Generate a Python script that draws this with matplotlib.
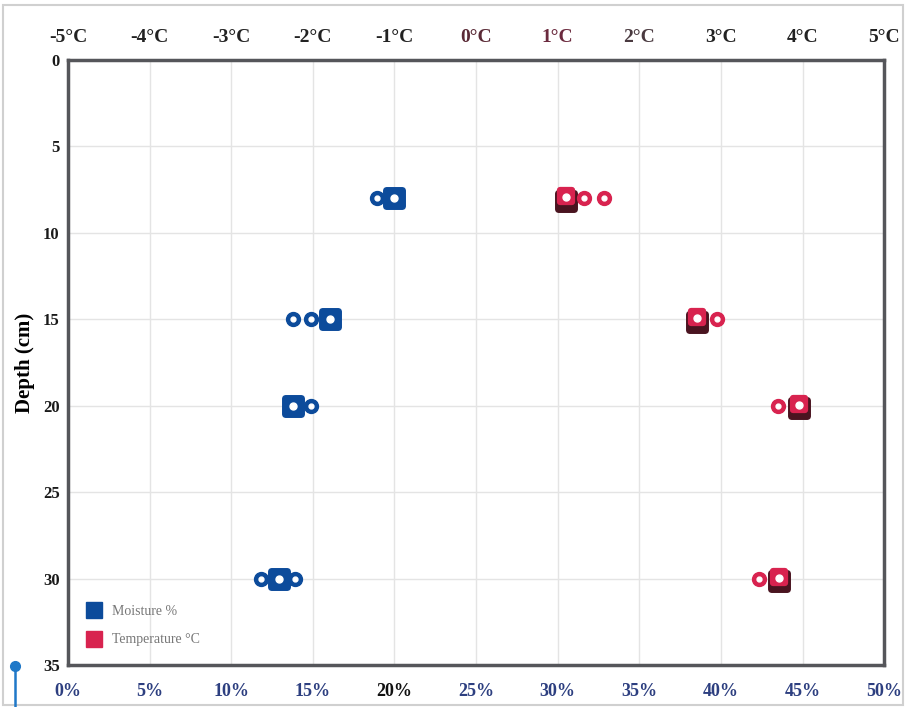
import matplotlib
matplotlib.use("Agg")
import matplotlib.pyplot as plt
from matplotlib.lines import Line2D
from matplotlib.markers import MarkerStyle
from matplotlib.patches import Rectangle

# soil probe readings
depths_moist = [8, 8, 15, 15, 15, 20, 20, 30, 30, 30]
moisture = [18.9, 20.0, 13.8, 14.9, 16.05, 13.8, 14.9, 11.8, 12.9, 13.9]
moist_big = [False, True, False, False, True, True, False, False, True, False]

depths_temp = [8, 8, 8, 15, 15, 20, 20, 30, 30]
temperature = [1.1, 1.32, 1.57, 2.71, 2.95, 3.7, 3.96, 3.46, 3.71]
temp_big = [True, False, False, True, False, False, True, False, True]

pct_ticks = list(range(0, 51, 5))
pct_labels = ["%d%%" % p for p in pct_ticks]
temp_ticks = list(range(-5, 6))
temp_labels = ["%d°C" % t for t in temp_ticks]
depth_ticks = list(range(0, 36, 5))

BLUE = "#0c4b9b"
RED = "#d8234f"
DARK_RED = "#4a1420"
serif = ["Liberation Serif", "DejaVu Serif"]
rsq = MarkerStyle("s", joinstyle="round")

fig = plt.figure(figsize=(9.06, 7.07), dpi=100)
ax = fig.add_axes([0.075, 0.0594, 0.901, 0.856])
ax.set_xlim(0, 50)
ax.set_ylim(35, 0)
ax.set_xticks(pct_ticks)
ax.set_yticks(depth_ticks)
ax.grid(True, color="#e4e4e4", lw=1)
ax.set_axisbelow(True)
for sp in ax.spines.values():
    sp.set_color("#55565a")
    sp.set_linewidth(2.5)
ax.tick_params(axis="x", length=0, pad=13)
ax.tick_params(axis="y", length=0, pad=6)
ax.set_xticklabels(pct_labels, family=serif, weight="bold", fontsize=13, color="#2d3f80")
ax.get_xticklabels()[4].set_color("#111111")
ax.set_yticklabels([str(d) for d in depth_ticks], family=serif, weight="bold", fontsize=12, color="#1a1a1a")
ax.set_ylabel("Depth (cm)", family=serif, weight="bold", fontsize=15, labelpad=6)

ax2 = ax.twiny()
ax2.set_xlim(-5, 5)
ax2.set_xticks(temp_ticks)
ax2.set_xticklabels(temp_labels, family=serif, weight="bold", fontsize=14)
ax2.tick_params(length=0, pad=10)
top_colors = ["#222", "#222", "#222", "#222", "#222", "#5a2a36", "#6b2a3e", "#4a3a40", "#222", "#222", "#222"]
for lab, c in zip(ax2.get_xticklabels(), top_colors):
    lab.set_color(c)
for sp in ax2.spines.values():
    sp.set_visible(False)

# moisture markers
for x, y, big in zip(moisture, depths_moist, moist_big):
    if big:
        ax.plot(x, y, marker=rsq, ms=11, mfc=BLUE, mec=BLUE, mew=5, zorder=4)
        ax.plot(x, y, marker="o", ms=5, mfc="white", mec="white", zorder=5)
    else:
        ax.plot(x, y, marker="o", ms=10, mfc=BLUE, mec=BLUE, zorder=4)
        ax.plot(x, y, marker="o", ms=3.5, mfc="white", mec="white", zorder=5)

# temperature markers
for x, y, big in zip(temperature, depths_temp, temp_big):
    if big:
        ax2.plot(x, y + 0.15, marker=rsq, ms=11, mfc=DARK_RED, mec=DARK_RED, mew=5, zorder=3)
        ax2.plot(x, y - 0.1, marker=rsq, ms=9, mfc=RED, mec=RED, mew=4.5, zorder=4)
        ax2.plot(x, y - 0.05, marker="o", ms=5, mfc="white", mec="white", zorder=5)
    else:
        ax2.plot(x, y, marker="o", ms=10, mfc=RED, mec=RED, zorder=4)
        ax2.plot(x, y, marker="o", ms=3.5, mfc="white", mec="white", zorder=5)

handles = [
    Line2D([], [], ls="none", marker="s", ms=11, mfc=BLUE, mec=BLUE, label="Moisture %"),
    Line2D([], [], ls="none", marker="s", ms=11, mfc=RED, mec=RED, label="Temperature °C"),
]
leg = ax.legend(handles=handles, loc="lower left", frameon=False,
                prop={"family": serif, "size": 10}, handletextpad=0.3,
                labelspacing=1.1, bbox_to_anchor=(0.0, 0.01), borderaxespad=0.5)
for t in leg.get_texts():
    t.set_color("#777777")

# page edge and pin at bottom left
fig.add_artist(Rectangle((0.003, 0.003), 0.994, 0.99, transform=fig.transFigure,
                         fill=False, ec="#d0d0d0", lw=1.5))
fig.add_artist(Line2D([0.017, 0.017], [0.0, 0.058], transform=fig.transFigure,
                      color="#1f78c8", lw=1.8))
fig.add_artist(Line2D([0.017], [0.058], transform=fig.transFigure, marker="o",
                      ms=7, color="#1f78c8"))

fig.savefig("out.png", dpi=100)
